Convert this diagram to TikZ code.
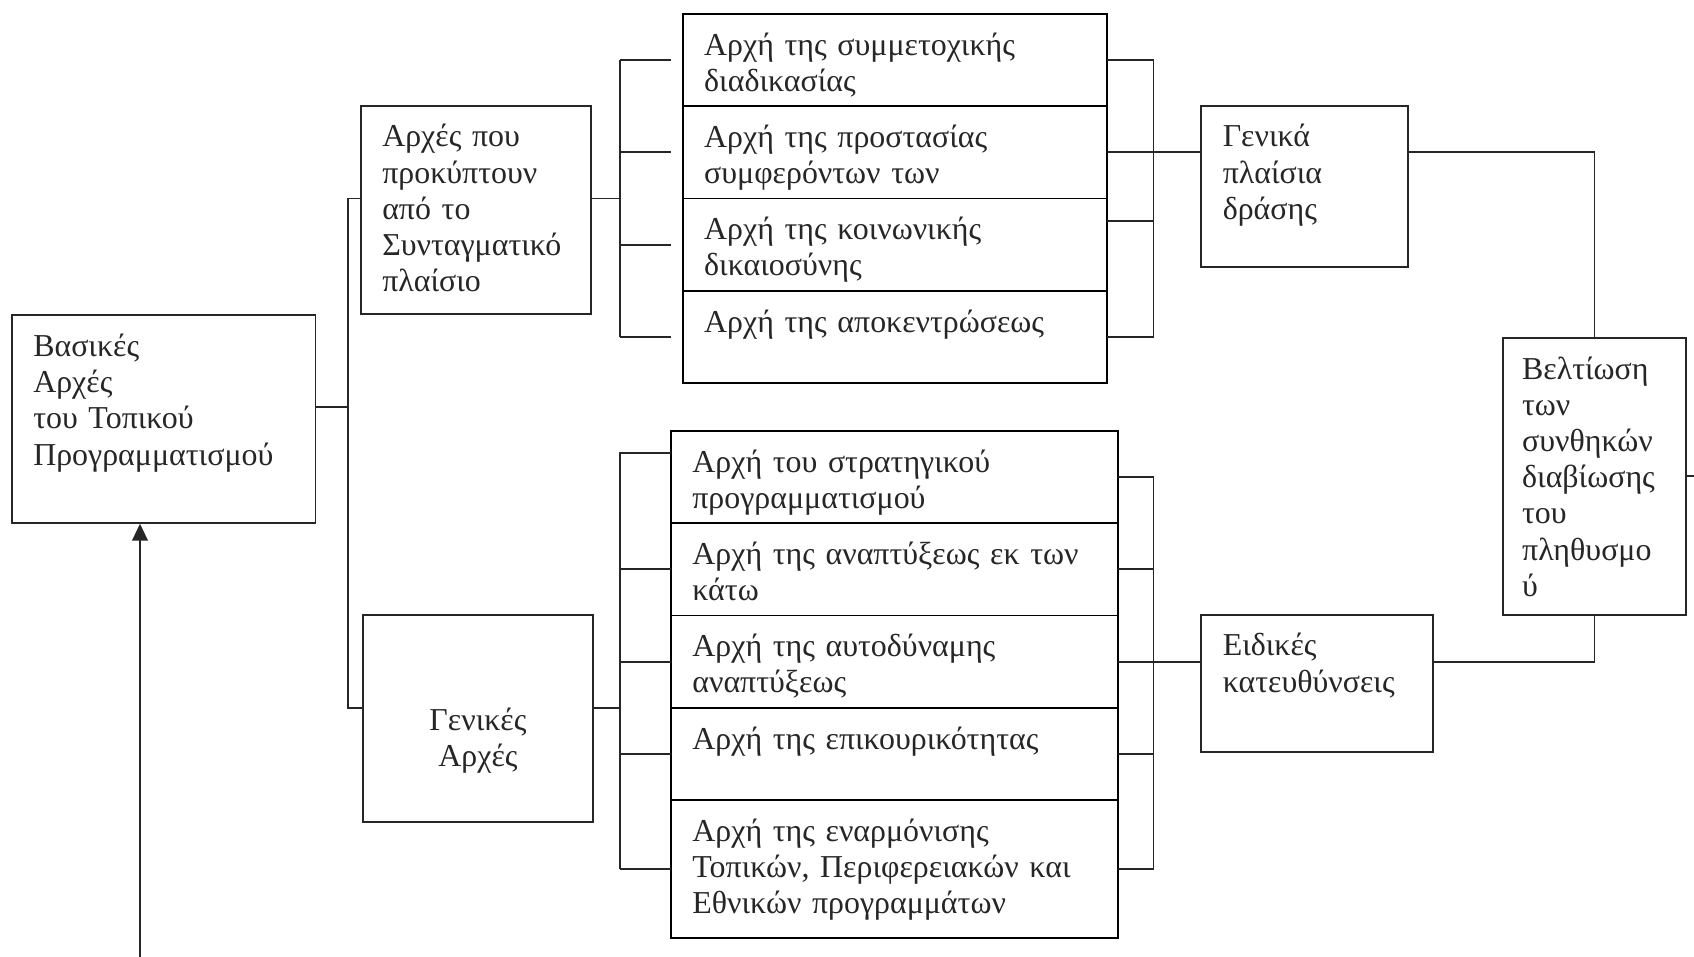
\documentclass[tikz,border=0pt]{standalone}
\usepackage{fontspec}
\setmainfont{Liberation Serif}
\usetikzlibrary{matrix,arrows.meta}

\begin{document}
\begin{tikzpicture}[x=0.376pt, y=-0.376pt, line width=0.7pt, color=black!85,
font=\fontsize{12}{13.6}\selectfont,
box/.style={draw, anchor=north west, align=left, inner xsep=8.1pt,
    inner ysep=0pt, text height=15.5pt},
stack/.style={matrix of nodes, anchor=north west, inner sep=0pt, outer sep=0pt,
row sep=-\pgflinewidth,
nodes={draw, align=left, inner xsep=8.1pt, inner ysep=0pt, text height=15.5pt,
    text depth=19.2pt}}]
\useasboundingbox (0,0) rectangle (1694,957);
\node[box, text width=98pt, text depth=62.5pt] (root) at (10.8,314.4)
  {Βασικές\\Αρχές\\του Τοπικού\\Προγραμματισμού};
\node[box, text width=70.3pt, text depth=62.9pt] (constit) at (359.8,104.8)
  {Αρχές που\\προκύπτουν\\από το\\Συνταγματικό\\πλαίσιο};
\node[box, align=center, text width=70.4pt, text height=43.5pt, text depth=34.5pt]
  (general) at (361.9,613.7) {Γενικές\\Αρχές};
\matrix[stack, nodes={text width=143.4pt}] (upper) at (681.7,13) {
Αρχή της συμμετοχικής\newline διαδικασίας\\
Αρχή της προστασίας\newline συμφερόντων των\\
Αρχή της κοινωνικής\newline δικαιοσύνης\\
Αρχή της αποκεντρώσεως\\};
\matrix[stack, nodes={text width=151.9pt}, row 5/.style={nodes={text depth=36.5pt}}]
  (lower) at (669.9,430) {
Αρχή του στρατηγικού\newline προγραμματισμού\\
Αρχή της αναπτύξεως εκ των\newline κάτω\\
Αρχή της αυτοδύναμης\newline αναπτύξεως\\
Αρχή της επικουρικότητας\\
Αρχή της εναρμόνισης\newline Τοπικών, Περιφερειακών και\newline Εθνικών προγραμμάτων\\};
\node[box, text width=61.4pt, text depth=45pt] (frames) at (1200.3,104.8)
  {Γενικά\\πλαίσια\\δράσης};
\node[box, text width=71.1pt, text depth=36.1pt] (special) at (1200.3,613.7)
  {Ειδικές\\κατευθύνσεις};
\node[box, inner xsep=7.3pt, text width=54.4pt, text depth=88.5pt] (living) at (1501.8,337.1)
  {Βελτίωση\\των\\συνθηκών\\διαβίωσης\\του\\πληθυσμο\\ύ};
\coordinate (lx) at (620.1,0);
\coordinate (rx) at (1153.5,0);
\coordinate (fb) at (140,957);
\draw ([yshift=4.5pt]root.east) -- ++(31.3,0) coordinate (sx);
\draw (constit.west |- upper.center) -| (sx) |- (general.west |- lower-4-1.north);
\draw (constit.east |- upper.center) -- (lx |- upper.center);
\draw (lx |- upper-1-1) -- (lx |- upper-4-1);
\foreach \i in {1,...,4}
  \draw (lx |- upper-\i-1) -- (lower-1-1.west |- upper-\i-1);
\foreach \i in {1,2,4}
  \draw (upper-\i-1.east) -- (rx |- upper-\i-1);
\draw ([yshift=8.9pt]upper-3-1.east) -- ([yshift=8.9pt]rx |- upper-3-1);
\draw (rx |- upper-1-1) -- (rx |- upper-4-1);
\draw (upper-2-1.east) -- (frames.west |- upper-2-1);
\draw (frames.east |- upper-2-1) -| (living.north);
\draw (general.east |- lower-4-1.north) -- (lx |- lower-4-1.north);
\draw ([yshift=9.1pt]lower-1-1.west) -- ([yshift=9.1pt]lx |- lower-1-1) -- (lx |- lower-5-1);
\foreach \i in {2,...,5}
  \draw (lx |- lower-\i-1) -- (lower-\i-1.west);
\foreach \i in {1,...,5}
  \draw (lower-\i-1.east) -- (rx |- lower-\i-1);
\draw (rx |- lower-1-1) -- (rx |- lower-5-1);
\draw (rx |- lower-3-1) -- (special.west |- lower-3-1);
\draw (special.east |- lower-3-1) -| (living.south);
\draw (living.east) -- ++(10,0);
\draw[-{Triangle[width=5.9pt,length=6.4pt]}] (fb) -- (fb |- root.south);
\end{tikzpicture}
\end{document}
